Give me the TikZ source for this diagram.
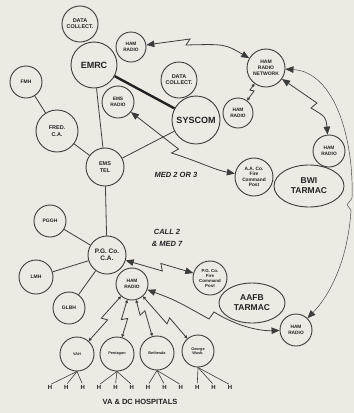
\documentclass[tikz,border=0pt]{standalone}
\usepackage{fontspec}
\setmainfont{Liberation Sans}
\usetikzlibrary{arrows.meta,calc,shapes.geometric}
\definecolor{bg}{HTML}{ECEAE2}
\definecolor{ink}{HTML}{3C3C3C}
\definecolor{txt}{HTML}{222222}
\newcommand\fs[2]{\fontsize{#1}{#2}\selectfont\bfseries}
\newcommand\bolt[6][]{%
  \coordinate (bM) at ($(#2)!#4!(#3)$);
  \coordinate (bF) at ($(bM)!#5!(#3)$);
  \coordinate (bB) at ($(bM)!-#5!(#3)$);
  \draw[#1] (#2) -- ($(bF)!#6!-90:(#3)$) -- ($(bB)!#6!90:(#3)$) -- (#3);}
\begin{document}
\begin{tikzpicture}[x=1pt,y=-1pt,
  circ/.style={circle,draw=ink,line width=0.9pt,inner sep=0pt,text=txt,align=center},
  oval/.style={ellipse,draw=ink,line width=0.9pt,inner sep=0pt,text=txt,align=center},
  conn/.style={draw=ink,line width=0.8pt},
  thinconn/.style={draw=ink,line width=0.45pt},
  thickconn/.style={draw=txt,line width=2.4pt},
  bigarr/.style={arrows={Triangle[length=8pt,width=6.5pt]-Triangle[length=8pt,width=6.5pt]}},
  smallarr/.style={arrows={Triangle[length=3pt,width=3pt]-Triangle[length=3pt,width=3pt]}},
  hh/.style={text=txt,font=\fs{6}{7},inner sep=0pt},
  lbl/.style={text=txt,font=\fs{7.5}{12}\itshape,align=center,inner sep=0pt}]
\fill[bg] (0,0) rectangle (354,413);
\useasboundingbox (0,0) rectangle (354,413);

% nodes
\node[circ,minimum size=36pt,font=\fs{5.5}{6.2}] (dc1) at (80,24) {DATA\\COLLECT.};
\node[circ,minimum size=46pt,font=\fs{9}{10}] (emrc) at (94,65) {EMRC};
\node[circ,minimum size=30pt,font=\fs{4.8}{5.6}] (hr1) at (131,47) {HAM\\RADIO};
\node[circ,minimum size=32pt,font=\fs{5}{6}] (fmh) at (26,82) {FMH};
\node[circ,minimum size=42pt,font=\fs{5.5}{6.5}] (fred) at (57,131) {FRED.\\C.A.};
\node[circ,minimum size=32pt,font=\fs{4.8}{5.6}] (emsr) at (118,102) {EMS\\RADIO};
\node[circ,minimum size=36pt,font=\fs{5.5}{6.2}] (dc2) at (179,80) {DATA\\COLLECT.};
\node[circ,minimum size=48pt,font=\fs{9}{10}] (sys) at (196,120) {SYSCOM};
\node[circ,minimum size=30pt,font=\fs{4.8}{5.6}] (hr2) at (238,113) {HAM\\RADIO};
\node[circ,minimum size=38pt,font=\fs{5}{5.8}] (net) at (266,68) {HAM\\RADIO\\NETWORK};
\node[circ,minimum size=38pt,font=\fs{5.5}{6.5}] (emstel) at (105,167) {EMS\\TEL};
\node[circ,minimum size=32pt,font=\fs{4.8}{6}] (hr3) at (329,151) {HAM\\RADIO};
\node[circ,minimum size=38pt,font=\fs{4.8}{5.4}] (aa) at (254,177) {A.A. Co.\\Fire\\Command\\Post};
\node[oval,minimum width=70pt,minimum height=42pt,font=\fs{8.5}{10}] (bwi) at (309,186) {BWI\\TARMAC};
\node[circ,minimum size=32pt,font=\fs{5}{6}] (pggh) at (50,221) {PGGH};
\node[circ,minimum size=38pt,font=\fs{6.5}{7.5}] (pgca) at (107,255) {P.G. Co.\\C.A.};
\node[circ,minimum size=34pt,font=\fs{5}{6}] (lmh) at (36,277) {LMH};
\node[circ,minimum size=32pt,font=\fs{5}{6}] (glbh) at (69,308) {GLBH};
\node[circ,minimum size=32pt,font=\fs{4.8}{6}] (hr4) at (132,284) {HAM\\RADIO};
\node[circ,minimum size=34pt,font=\fs{4.4}{5}] (pgf) at (210,278) {P.G. Co.\\Fire\\Command\\Post};
\node[oval,minimum width=66pt,minimum height=40pt,font=\fs{8.5}{10}] (aafb) at (252,303) {AAFB\\TARMAC};
\node[circ,minimum size=32pt,font=\fs{4.8}{6}] (hr5) at (296,330) {HAM\\RADIO};
\node[circ,minimum size=34pt,font=\fs{3.8}{4.6}] (b1) at (77,354) {VAH};
\node[circ,minimum size=34pt,font=\fs{3.8}{4.6}] (b2) at (117,354) {Pentagon};
\node[circ,minimum size=34pt,font=\fs{3.8}{4.6}] (b3) at (157,353) {Bethesda};
\node[circ,minimum size=32pt,font=\fs{3.8}{4.6}] (b4) at (198,351) {George\\Wash.};

\foreach \i in {1,...,12} \node[hh] (H\i) at ({50+(\i-1)*16.36},387) {H};
\node[text=txt,font=\fs{7.5}{9},inner sep=0pt] (va) at (140,402) {VA \& DC HOSPITALS};
\node[lbl] (med) at (176,175) {MED 2 OR 3};
\node[lbl] (call) at (167,238) {CALL 2\\\& MED 7};

% plain links
\draw[thickconn] (emrc) -- (sys);
\draw[conn] (emrc) -- (emstel);
\draw[conn] (fmh) -- (fred);
\draw[conn] (fred) -- (emstel);
\draw[conn] (sys) -- (emstel);
\draw[conn] (emstel) -- (pgca);
\draw[conn] (pggh) -- (pgca);
\draw[conn] (lmh) -- (pgca);
\draw[conn] (glbh) -- (pgca);

% radio links
\draw[conn,bigarr] (hr1) -- (190,39) -- (186,45) .. controls (225,44) .. (net);
\draw[conn,bigarr] (emsr) -- (178.5,149) -- (171.5,153) .. controls (200,162) and (215,170) .. (aa);
\bolt[conn,smallarr]{hr2}{net}{0.5}{0.8pt}{2pt}
\draw[conn,bigarr] (net) -- (317,103) -- (311,108) .. controls (326,117) .. (hr3);
\draw[thinconn,bigarr] (net) .. controls (335,72) and (354,140) .. (352,198) -- (347,205) -- (351,210) .. controls (348,260) and (330,295) .. (hr5);
\bolt[conn,bigarr]{pgca}{pgf}{0.53}{1.5pt}{3.5pt}
\draw[conn,bigarr] (hr4) .. controls (175,300) .. (209,319) -- (214,312) .. controls (240,328) and (262,331) .. (hr5);
\bolt[conn,smallarr]{hr4}{b1}{0.5}{1.2pt}{3pt}
\bolt[conn,smallarr]{hr4}{b2}{0.5}{1.2pt}{3pt}
\bolt[conn,smallarr]{hr4}{b3}{0.42}{1.2pt}{3pt}
\bolt[conn,smallarr]{hr4}{b4}{0.55}{1.2pt}{3pt}

% hospital fans
\foreach \b/\a/\c/\d in {b1/1/2/3,b2/4/5/6,b3/7/8/9,b4/10/11/12}{
  \draw[conn,line width=0.6pt,shorten >=1.5pt] (\b.south) -- (H\a.north);
  \draw[conn,line width=0.6pt,shorten >=1.5pt] (\b.south) -- (H\c.north);
  \draw[conn,line width=0.6pt,shorten >=1.5pt] (\b.south) -- (H\d.north);
}
\end{tikzpicture}
\end{document}
